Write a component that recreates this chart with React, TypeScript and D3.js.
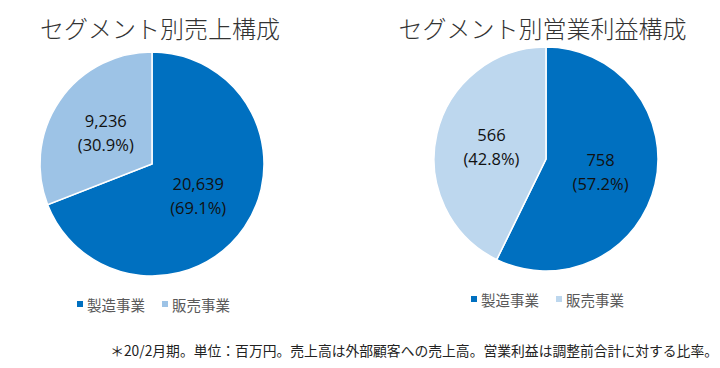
import React from "react";
import * as d3 from "d3";

const categories = ["製造事業", "販売事業"];
const salesValues = [20639, 9236];
const salesLabels = ["20,639", "9,236"];
const salesPct = ["(69.1%)", "(30.9%)"];
const profitValues = [758, 566];
const profitLabels = ["758", "566"];
const profitPct = ["(57.2%)", "(42.8%)"];
const titles = ["セグメント別売上構成", "セグメント別営業利益構成"];
const footnote = "＊20/2月期。単位：百万円。売上高は外部顧客への売上高。営業利益は調整前合計に対する比率。";

const DARK = "#0070C0";
const LIGHT_LEFT = "#9DC3E6";
const LIGHT_RIGHT = "#BDD7EE";
const JP = "'Noto Sans CJK JP', 'Noto Sans', sans-serif";
const NUM = "'Open Sans', 'Noto Sans', sans-serif";

type PieProps = {
  cx: number; cy: number; r: number; values: number[]; labels: string[]; pcts: string[];
  colors: string[]; title: string; titleX: number; legendX: number; legendY: number;
};

function Pie({ cx, cy, r, values, labels, pcts, colors, title, titleX, legendX, legendY }: PieProps) {
  const pie = d3.pie<number>().sort(null).value((d) => d);
  const arcs = pie(values);
  const arc = d3.arc<d3.PieArcDatum<number>>().innerRadius(0).outerRadius(r);
  const legendStep = [0, 85];
  return (
    <g>
      <text x={titleX} y={27} textAnchor="middle" dominantBaseline="central"
        fontFamily={JP} fontWeight={300} fontSize={24} fill="#333">{title}</text>
      <g transform={`translate(${cx},${cy})`}>
        {arcs.map((a, i) => (
          <path key={i} d={arc(a) || ""} fill={colors[i]} stroke="#fff" strokeWidth={1.5} />
        ))}
        {arcs.map((a, i) => {
          const [x, y] = arc.centroid(a);
          return (
            <text key={"t" + i} x={x} textAnchor="middle" fontFamily={NUM} fontSize={16.5} fill="#111">
              <tspan x={x} y={y - 12} dominantBaseline="central">{labels[i]}</tspan>
              <tspan x={x} y={y + 12} dominantBaseline="central">{pcts[i]}</tspan>
            </text>
          );
        })}
      </g>
      {categories.map((c, i) => (
        <g key={c} transform={`translate(${legendX + legendStep[i]},${legendY})`}>
          <rect x={-3} y={-3} width={6} height={6} fill={colors[i]} />
          <text x={7} y={0} dominantBaseline="central" fontFamily={JP} fontSize={14.5} fill="#595959">{c}</text>
        </g>
      ))}
    </g>
  );
}

export default function App() {
  return (
    <svg width={720} height={368} style={{ position: "absolute", left: 0, top: 0, background: "#fff" }}>
      <Pie cx={152} cy={164} r={112} values={salesValues} labels={salesLabels} pcts={salesPct}
        colors={[DARK, LIGHT_LEFT]} title={titles[0]} titleX={160} legendX={80} legendY={304} />
      <Pie cx={546} cy={159} r={112} values={profitValues} labels={profitLabels} pcts={profitPct}
        colors={[DARK, LIGHT_RIGHT]} title={titles[1]} titleX={542.5} legendX={474} legendY={299} />
      <text x={718} y={350} textAnchor="end" dominantBaseline="central" fontFamily={JP}
        fontSize={13.8} fill="#222">{footnote}</text>
    </svg>
  );
}
